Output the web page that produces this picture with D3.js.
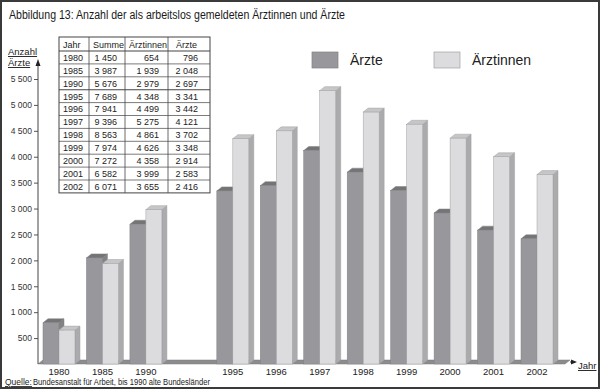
<!DOCTYPE html>
<html>
<head>
<meta charset="utf-8">
<script src="https://cdn.jsdelivr.net/npm/d3@7"></script>
<style>
  body { margin: 0; background: #fff; }
  svg { display: block; font-family: "Liberation Sans", Arial, sans-serif; }
</style>
</head>
<body>
<div id="chart"></div>
<script>
// values from the table in the figure
const years = ["1980", "1985", "1990", "1995", "1996", "1997", "1998", "1999", "2000", "2001", "2002"];
const aerzte = [796, 2048, 2697, 3341, 3442, 4121, 3702, 3348, 2914, 2583, 2416];
const aerztinnen = [654, 1939, 2979, 4348, 4499, 5275, 4861, 4626, 4358, 3999, 3655];
const summe = [1450, 3987, 5676, 7689, 7941, 9396, 8563, 7974, 7272, 6582, 6071];
// x slots, one empty slot between 1990 and 1995
const slots = ["1980", "1985", "1990", "gap", "1995", "1996", "1997", "1998", "1999", "2000", "2001", "2002"];
const seriesNames = ["Ärzte", "Ärztinnen"];
const yTicks = [500, 1000, 1500, 2000, 2500, 3000, 3500, 4000, 4500, 5000, 5500];

const width = 600, height = 389;
const dx = 5, dy = 4; // 3d depth

const de = d3.formatLocale({ decimal: ",", thousands: " ", grouping: [3], currency: ["", " €"] });
const fmt = de.format(",d");

const svg = d3.select("#chart").append("svg")
    .attr("width", width)
    .attr("height", height)
    .attr("viewBox", [0, 0, width, height]);

// frame
svg.append("rect")
    .attr("x", 1).attr("y", 1)
    .attr("width", width - 2).attr("height", height - 2)
    .attr("fill", "#fff")
    .attr("stroke", "#3a3a3a")
    .attr("stroke-width", 2);

svg.append("text")
    .attr("x", 9).attr("y", 18.5)
    .attr("font-size", 12)
    .attr("fill", "#1a1a1a")
    .attr("textLength", 336)
    .attr("lengthAdjust", "spacingAndGlyphs")
    .text("Abbildung 13: Anzahl der als arbeitslos gemeldeten Ärztinnen und Ärzte");

const y = d3.scaleLinear().domain([0, 5500]).range([364, 79]);

const x = d3.scaleBand()
    .domain(slots)
    .range([43, 553])
    .paddingInner(0.264)
    .paddingOuter(0);

const xs = d3.scaleBand().domain(seriesNames).range([0, x.bandwidth()]);

const colors = {
    "Ärzte": { front: "#98989c", top: "#747476", side: "#828285", edge: "#808083" },
    "Ärztinnen": { front: "#dcdcde", top: "#c6c6c8", side: "#ababae", edge: "#a0a0a3" }
};

// floor
const x0floor = 38, x1floor = 565, base = y(0);
svg.append("path")
    .attr("d", `M${x0floor},${base}L${x1floor},${base}L${x1floor + dx},${base - dy}L${x0floor + dx},${base - dy}Z`)
    .attr("fill", "#8c8c8e")
    .attr("stroke", "#7a7a7c")
    .attr("stroke-width", 0.5);

// y axis
const yAxis = svg.append("g")
    .attr("transform", `translate(38,0)`)
    .call(d3.axisLeft(y).tickValues(yTicks).tickSize(4).tickPadding(2).tickFormat(fmt));
yAxis.select(".domain").remove();
yAxis.selectAll(".tick line").attr("stroke", "#555");
yAxis.selectAll(".tick text")
    .attr("font-size", 8.5)
    .attr("fill", "#333")
    .attr("font-family", "Liberation Sans, Arial, sans-serif");

svg.append("line")
    .attr("x1", 38).attr("x2", 38)
    .attr("y1", base).attr("y2", 65)
    .attr("stroke", "#444").attr("stroke-width", 1);
svg.append("path")
    .attr("d", "M38,59L35.5,66L40.5,66Z")
    .attr("fill", "#222");

svg.append("text")
    .attr("x", 8).attr("y", 55)
    .attr("font-size", 9.5).attr("fill", "#222")
    .attr("text-decoration", "underline")
    .text("Anzahl");
svg.append("text")
    .attr("x", 8).attr("y", 66)
    .attr("font-size", 9.5).attr("fill", "#222")
    .attr("text-decoration", "underline")
    .text("Ärzte");

// x axis arrow
svg.append("line")
    .attr("x1", x1floor + dx).attr("x2", 572)
    .attr("y1", base - 2).attr("y2", base - 2)
    .attr("stroke", "#333");
svg.append("path")
    .attr("d", `M577,${base - 2}L571,${base - 4.5}L571,${base + 0.5}Z`)
    .attr("fill", "#222");
svg.append("text")
    .attr("x", 578).attr("y", 369)
    .attr("font-size", 9.5).attr("fill", "#222")
    .attr("text-decoration", "underline")
    .text("Jahr");

// bars
const rows = years.map((yr, i) => ({ year: yr, "Ärzte": aerzte[i], "Ärztinnen": aerztinnen[i] }));

const groups = svg.append("g").selectAll("g")
    .data(rows)
    .join("g")
    .attr("transform", d => `translate(${x(d.year)},0)`);

seriesNames.forEach(s => {
    const bw = xs.bandwidth();
    const c = colors[s];
    groups.append("path")
        .attr("d", d => {
            const bx = xs(s) + bw, ty = y(d[s]);
            return `M${bx},${ty}L${bx + dx},${ty - dy}L${bx + dx},${base - dy}L${bx},${base}Z`;
        })
        .attr("fill", c.side).attr("stroke", c.edge).attr("stroke-width", 0.5);
    groups.append("path")
        .attr("d", d => {
            const bx = xs(s), ty = y(d[s]);
            return `M${bx},${ty}L${bx + dx},${ty - dy}L${bx + bw + dx},${ty - dy}L${bx + bw},${ty}Z`;
        })
        .attr("fill", c.top).attr("stroke", c.edge).attr("stroke-width", 0.5);
    groups.append("rect")
        .attr("x", xs(s))
        .attr("y", d => y(d[s]))
        .attr("width", bw)
        .attr("height", d => base - y(d[s]))
        .attr("fill", c.front).attr("stroke", c.edge).attr("stroke-width", 0.5);
});

// x labels
svg.append("g").selectAll("text")
    .data(years)
    .join("text")
    .attr("x", d => x(d) + x.bandwidth() / 2)
    .attr("y", 375)
    .attr("text-anchor", "middle")
    .attr("font-size", 9.5)
    .attr("fill", "#222")
    .text(d => d);

// legend
const legend = svg.append("g").selectAll("g")
    .data(seriesNames)
    .join("g")
    .attr("transform", (d, i) => `translate(${312 + i * 122},52)`);
legend.append("rect")
    .attr("width", 26).attr("height", 16)
    .attr("fill", d => colors[d].front)
    .attr("stroke", d => colors[d].edge)
    .attr("stroke-width", 0.7);
legend.append("text")
    .attr("x", 38).attr("y", 13)
    .attr("font-size", 14)
    .attr("fill", "#222")
    .text(d => d);

// table
const colEdges = [59, 89, 125, 168, 210];
const tTop = 37, headH = 14, rowH = 12.9;
const tBottom = tTop + headH + rowH * years.length;
const table = svg.append("g");
table.append("rect")
    .attr("x", colEdges[0]).attr("y", tTop)
    .attr("width", colEdges[4] - colEdges[0]).attr("height", tBottom - tTop)
    .attr("fill", "#fff").attr("stroke", "#444").attr("stroke-width", 1);
table.selectAll(".vline")
    .data(colEdges.slice(1, 4))
    .join("line")
    .attr("x1", d => d).attr("x2", d => d)
    .attr("y1", tTop).attr("y2", tBottom)
    .attr("stroke", "#444").attr("stroke-width", 0.8);
table.selectAll(".hline")
    .data(d3.range(years.length))
    .join("line")
    .attr("x1", colEdges[0]).attr("x2", colEdges[4])
    .attr("y1", i => tTop + headH + rowH * i)
    .attr("y2", i => tTop + headH + rowH * i)
    .attr("stroke", "#444")
    .attr("stroke-width", i => (i === 0 || i === 3) ? 1.1 : 0.7);

const header = [
    { t: "Jahr", x: 63, a: "start" },
    { t: "Summe", x: 124, a: "end" },
    { t: "Ärztinnen", x: 167, a: "end" },
    { t: "Ärzte", x: 197, a: "end" }
];
table.selectAll(".head")
    .data(header)
    .join("text")
    .attr("x", d => d.x).attr("y", tTop + 10.5)
    .attr("text-anchor", d => d.a)
    .attr("font-size", 9).attr("fill", "#222")
    .text(d => d.t);

const tableRows = years.map((yr, i) => [yr, fmt(summe[i]), fmt(aerztinnen[i]), fmt(aerzte[i])]);
const cellX = [63, 117, 159, 198];
table.selectAll(".row")
    .data(tableRows)
    .join("g")
    .attr("transform", (d, i) => `translate(0,${tTop + headH + rowH * i + 9.8})`)
    .selectAll("text")
    .data(d => d)
    .join("text")
    .attr("x", (d, j) => cellX[j])
    .attr("text-anchor", (d, j) => j === 0 ? "start" : "end")
    .attr("font-size", 9).attr("fill", "#222")
    .text(d => d);

// source
svg.append("text")
    .attr("x", 5).attr("y", 385)
    .attr("font-size", 8.5).attr("fill", "#222")
    .attr("text-decoration", "underline")
    .text("Quelle:");
svg.append("text")
    .attr("x", 33).attr("y", 385)
    .attr("font-size", 8.5).attr("fill", "#222")
    .attr("textLength", 177)
    .attr("lengthAdjust", "spacingAndGlyphs")
    .text("Bundesanstalt für Arbeit, bis 1990 alte Bundesländer");
</script>
</body>
</html>
